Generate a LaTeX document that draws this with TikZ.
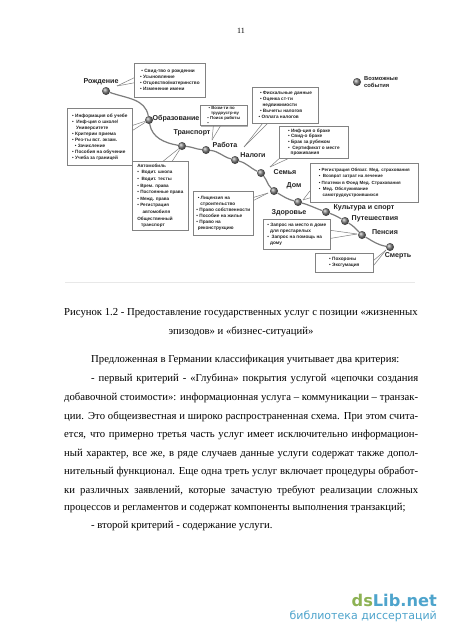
\documentclass[tikz,border=0pt]{standalone}
\usepackage{fontspec}
\setmainfont{Liberation Serif}
\newfontfamily\labelfont{Liberation Sans}
\newfontfamily\markfont{DejaVu Sans}
\usepackage{tikz}
\usetikzlibrary{shadows}
\definecolor{linegray}{RGB}{125,125,125}
\definecolor{boxgray}{RGB}{130,130,130}
\definecolor{inkgray}{RGB}{35,35,35}
\definecolor{rulegray}{RGB}{232,232,232}
\definecolor{markgreen}{RGB}{141,178,84}
\definecolor{markblue}{RGB}{78,164,204}
\newcommand{\itm}{\textbullet\ }
\newcommand{\fullline}[1]{\makebox[354pt][s]{#1}}
\newcommand{\indentline}[1]{\makebox[327pt][s]{#1}}

\begin{document}
\begin{tikzpicture}[
    x=1pt, y=-1pt,
    episode/.style={circle, inner sep=0pt, minimum size=8pt, ball color=gray},
    eventlabel/.style={inner sep=0pt, text=inkgray, font=\labelfont\bfseries\fontsize{7.1}{8}\selectfont},
    infobox/.style={rectangle, anchor=north west, draw=boxgray, fill=white, line width=0.7pt, inner sep=1.5pt, align=left, text=inkgray, font=\labelfont\bfseries\fontsize{4.7}{6}\selectfont, drop shadow={shadow xshift=0.9pt, shadow yshift=-0.9pt, fill=gray, opacity=0.6}},
    lifeline/.style={draw=linegray, line width=1.2pt},
    lead/.style={draw=linegray, line width=0.5pt},
    bodyline/.style={anchor=base west, inner sep=0pt, font=\fontsize{10.7}{12}\selectfont},
    captionline/.style={anchor=base, inner sep=0pt, font=\fontsize{10.7}{12}\selectfont}
]
\path[fill=white, use as bounding box] (0,0) rectangle (450,637);
\node[inner sep=0pt, font=\fontsize{8}{9}\selectfont] (pagenum) at (241,31) {11};
\draw[rulegray, line width=0.6pt] (65,282) -- (415,282);

% events along the line
\node[episode] (birth) at (106,91) {};
\node[episode] (school) at (149,120) {};
\node[episode] (transport) at (182,146) {};
\node[episode] (job) at (206,150) {};
\node[episode] (taxes) at (235,160) {};
\node[episode] (family) at (261,173) {};
\node[episode] (home) at (274,191) {};
\node[episode] (health) at (298,202) {};
\node[episode] (culture) at (326,212) {};
\node[episode] (travel) at (345,221) {};
\node[episode] (pension) at (362,235) {};
\node[episode] (death) at (390,247) {};

\node[eventlabel] (birthlabel) at (101,82) {Рождение};
\node[eventlabel] (schoollabel) at (176,119) {Образование};
\node[eventlabel] (transportlabel) at (192,133) {Транспорт};
\node[eventlabel] (joblabel) at (225,145) {Работа};
\node[eventlabel] (taxeslabel) at (253,155) {Налоги};
\node[eventlabel] (familylabel) at (285,172) {Семья};
\node[eventlabel] (homelabel) at (294,186) {Дом};
\node[eventlabel] (healthlabel) at (289,213) {Здоровье};
\node[eventlabel] (culturelabel) at (364,208) {Культура и спорт};
\node[eventlabel] (travellabel) at (375,219) {Путешествия};
\node[eventlabel] (pensionlabel) at (385,232) {Пенсия};
\node[eventlabel] (deathlabel) at (398,256) {Смерть};

% legend
\node[episode] (legendball) at (357,82) {};
\node[inner sep=0pt, anchor=west, align=left, text=inkgray, font=\labelfont\bfseries\fontsize{5.8}{7}\selectfont] (legendtext) at (364,82) {Возможные\\события};

% boxes
\node[infobox, minimum width=71pt, minimum height=34pt] (birthbox) at (134,63) {\ \itm Свид-тво о рождении\\\itm Усыновление\\\itm Отцовство/материнство\\\itm Изменение имени};
\node[infobox, minimum width=65pt, minimum height=57pt] (schoolbox) at (67,108) {\itm Информация об учебе\\\itm\ Инф-ция о школе/\\\ \ \ Университете\\\itm Критерии приема\\\itm Рез-ты вст. экзам.\\\ \ \itm Зачисление\\\itm Пособия на обучение\\\itm Учеба за границей};
\node[infobox, minimum width=47pt, minimum height=20pt, font=\labelfont\bfseries\fontsize{4.3}{4.8}\selectfont] (jobbox) at (200,105) {\ \itm Возм-ти по\\\ \ \ трудоустр-ву\\\itm Поиск работы\\\itm};
\node[infobox, minimum width=66pt, minimum height=36pt] (taxesbox) at (252,87) {\ \itm Фискальные данные\\\ \itm Оценка ст-ти\\\ \ \ недвижимости\\\ \itm Вычеты налогов\\\itm Оплата налогов};
\node[infobox, minimum width=69pt, minimum height=32pt, font=\labelfont\bfseries\fontsize{4.7}{5.7}\selectfont] (familybox) at (279,126) {\itm Инф-ция о браке\\\itm Свид-о браке\\\itm Брак за рубежом\\\itm\ Сертификат о месте\\\ \ проживания};
\node[infobox, minimum width=108pt, minimum height=39pt, font=\labelfont\bfseries\fontsize{4.5}{6.2}\selectfont] (healthbox) at (310,163) {\itm Регистрация Обязат. Мед. страхования\\\itm\ Возврат затрат на лечение\\\itm Платежи в Фонд Мед. Страхования\\\itm\ Мед. Обслуживание\\\ \ \ самотрудоустроившихся};
\node[infobox, minimum width=56pt, minimum height=69pt, font=\labelfont\bfseries\fontsize{4.6}{6.6}\selectfont] (transportbox) at (132,161) {Автомобиль\\\itm\ Водит. школа\\\itm\ Водит. тесты\\\itm Врем. права\\\itm Постоянные права\\\itm Межд. права\\\itm Регистрация\\\ \ \ \ автомобиля\\Общественный\\\ \ \ транспорт};
\node[infobox, minimum width=60pt, minimum height=44pt] (homebox) at (193,191) {\ \itm Лицензия на\\\ \ \ строительство\\\itm Право собственности\\\itm Пособие на жилье\\\itm Право на\\\ реконструкцию};
\node[infobox, minimum width=67pt, minimum height=30pt] (pensionbox) at (263,219) {\itm Запрос на место в доме\\\ \ для престарелых\\\itm\ Запрос на помощь на\\\ \ дому};
\node[infobox, minimum width=58pt, minimum height=19pt, inner xsep=5pt] (deathbox) at (315,253) {\itm Похороны\\\itm Эксгумация};

% apex points of the leads
\coordinate (birthapex) at (117,86);
\coordinate (jobapex) at (212,140);
\coordinate (taxesapex) at (244,147);
\coordinate (familyapex) at (270,167);
\coordinate (homeapex) at (268,193);
\coordinate (healthapex) at (303,200);
\coordinate (pensionapex) at (357,234);
\coordinate (deathapex) at (386,250);

\draw[lead] (birthapex) -- ([yshift=2.5pt]birthbox.west);
\draw[lead] (birthapex) -- ([yshift=-2.5pt]birthbox.west);
\draw[lead] (school) -- ([yshift=11.5pt]schoolbox.east);
\draw[lead] (school) -- ([yshift=6.5pt]schoolbox.east);
\draw[lead] (jobapex) -- ([xshift=-10.5pt]jobbox.south);
\draw[lead] (jobapex) -- ([xshift=-3.5pt]jobbox.south);
\draw[lead] (transport) -- ([xshift=3pt]transportbox.north);
\draw[lead] (transport) -- ([xshift=12pt]transportbox.north);
\draw[lead] (taxesapex) -- ([xshift=-23pt]taxesbox.south);
\draw[lead] (taxesapex) -- ([xshift=-18pt]taxesbox.south);
\draw[lead] (familyapex) -- (familybox.south west);
\draw[lead] (familyapex) -- ([xshift=9pt]familybox.south west);
\draw[lead] (homeapex) -- ([yshift=16pt]homebox.east);
\draw[lead] (homeapex) -- ([yshift=13pt]homebox.east);
\draw[lead] (healthapex) -- ([yshift=-8pt]healthbox.west);
\draw[lead] (healthapex) -- ([yshift=-15pt]healthbox.west);
\draw[lead] (pensionapex) -- ([yshift=4pt]pensionbox.east);
\draw[lead] (pensionapex) -- ([yshift=-4pt]pensionbox.east);
\draw[lead] (deathapex) -- ([yshift=2.5pt]deathbox.east);
\draw[lead] (deathapex) -- ([yshift=-2.5pt]deathbox.east);

% main line
\draw[lifeline] (birth) to[out=-20,in=100] (school) to[out=-80,in=170] (transport) to[out=-5,in=175] (job) to[out=-5,in=165] (taxes) to[out=-15,in=155] (family) to[out=-50,in=135] (home) to[out=-30,in=165] (health) to[out=-15,in=160] (culture) to[out=-20,in=150] (travel) to[out=-30,in=135] (pension) to[out=-30,in=170] (death);

% caption and text
\node[captionline] (captionone) at (241,315) {Рисунок 1.2 - Предоставление государственных услуг с позиции «жизненных};
\node[captionline] (captiontwo) at (241,334) {эпизодов» и «бизнес-ситуаций»};
\node[bodyline] (bodya) at (91,362) {Предложенная в Германии классификация учитывает два критерия:};
\node[bodyline] (bodyb) at (91,381) {\indentline{- первый критерий - «Глубина» покрытия услугой «цепочки создания}};
\node[bodyline] (bodyc) at (64,400) {\fullline{добавочной стоимости»: информационная услуга – коммуникации – транзак-}};
\node[bodyline] (bodyd) at (64,419) {\fullline{ции. Это общеизвестная и широко распространенная схема. При этом счита-}};
\node[bodyline] (bodye) at (64,437) {\fullline{ется, что примерно третья часть услуг имеет исключительно информацион-}};
\node[bodyline] (bodyf) at (64,456) {\fullline{ный характер, все же, в ряде случаев данные услуги содержат также допол-}};
\node[bodyline] (bodyg) at (64,474) {\fullline{нительный функционал. Еще одна треть услуг включает процедуры обработ-}};
\node[bodyline] (bodyh) at (64,493) {\fullline{ки различных заявлений, которые зачастую требуют реализации сложных}};
\node[bodyline] (bodyi) at (64,510) {процессов и регламентов и содержат компоненты выполнения транзакций;};
\node[bodyline] (bodyj) at (91,528) {- второй критерий - содержание услуги.};

% site mark
\node[anchor=base east, inner sep=0pt, font=\markfont\bfseries\fontsize{16.2}{18}\selectfont] (markname) at (437,606) {\textcolor{markgreen}{ds}\textcolor{markblue}{Lib.net}};
\node[anchor=base east, inner sep=0pt, text=markblue, font=\markfont\fontsize{11}{13}\selectfont] (marksub) at (437,619) {библиотека диссертаций};
\end{tikzpicture}
\end{document}
